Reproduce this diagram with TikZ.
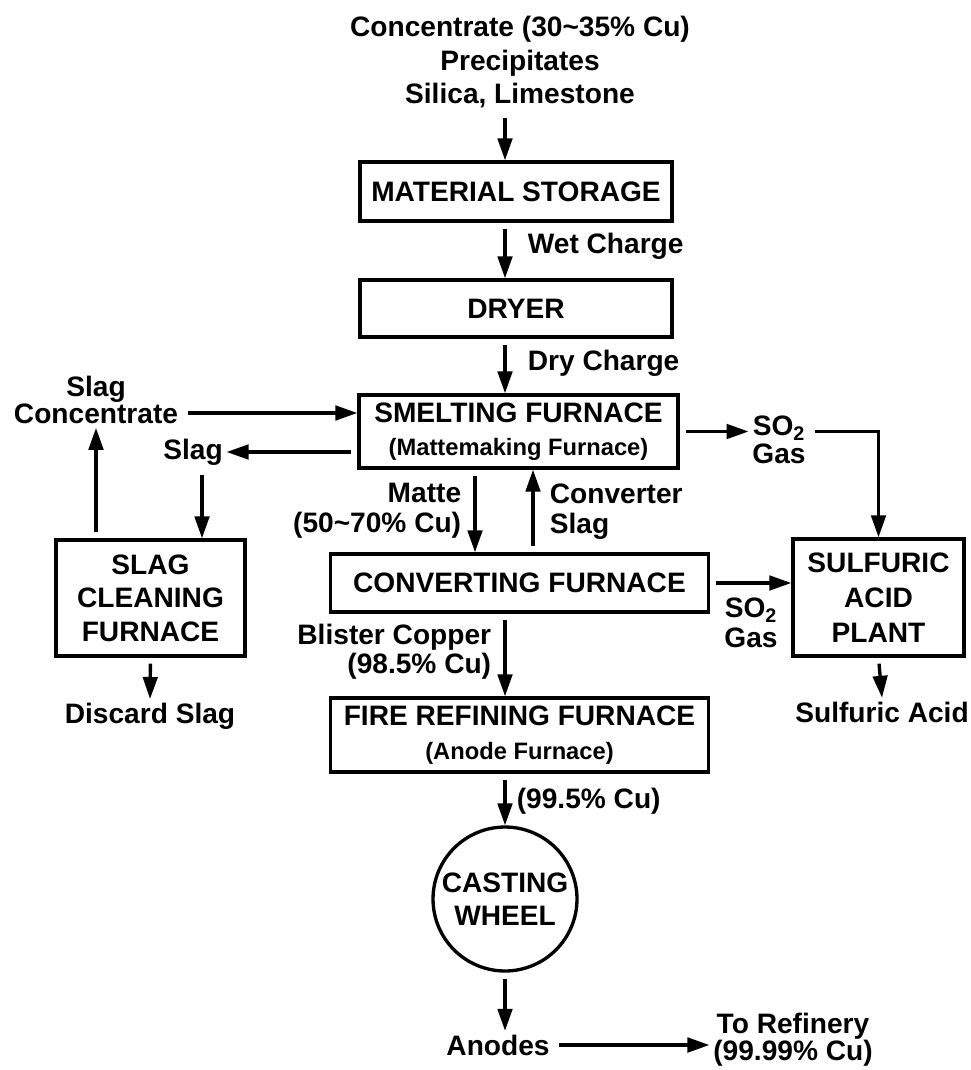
\documentclass[tikz,border=0pt]{standalone}
\usepackage{fontspec}
\setmainfont{Liberation Sans}
\usetikzlibrary{arrows.meta, positioning, shapes.geometric}
\tikzset{
  cublock/.style={rectangle, draw=black, line width=1.9pt, align=center,
                  inner sep=0pt, font=\bfseries\fontsize{16pt}{19pt}\selectfont},
  cuwheel/.style={cublock, circle, minimum size=2.88cm},
  culabel/.style={align=center, inner sep=2pt,
                  font=\bfseries\fontsize{16pt}{#1}\selectfont},
  culabel/.default=19pt,
  cuarrow/.style={-{Triangle[length=0.44cm, width=0.29cm]}, line width=1.9pt,
                  shorten <=0.12cm},
}
\newcommand{\subtxt}[1]{{\fontsize{13.5pt}{16pt}\selectfont #1}}

\begin{document}
\begin{tikzpicture}[x=0.02cm, y=-0.02cm]
  \useasboundingbox (0,0) rectangle (970,1070);
  \coordinate (trunk) at (505,0);
  \coordinate (mattex) at (475,0);
  \coordinate (slagx) at (533,0);

  % process units
  \node[cublock, minimum width=6.24cm, minimum height=1.18cm] (storage) at (516,191.5)
    {MATERIAL STORAGE};
  \node[cublock, minimum width=6.24cm, minimum height=1.14cm] (dryer) at (516,308.5)
    {DRYER};
  \node[cublock, minimum width=6.38cm, minimum height=1.46cm] (smelt) at (518.5,431.5)
    {SMELTING FURNACE\\\subtxt{(Mattemaking Furnace)}};
  \node[cublock, minimum width=7.56cm, minimum height=1.16cm] (convert) at (519.5,583)
    {CONVERTING FURNACE};
  \node[cublock, minimum width=7.56cm, minimum height=1.48cm] (refine) at (519.5,735)
    {FIRE REFINING FURNACE\\\subtxt{(Anode Furnace)}};
  \node[cublock, minimum width=3.78cm, minimum height=2.32cm] (cleaning) at (150.5,598)
    {SLAG\\CLEANING\\FURNACE};
  \node[cublock, minimum width=3.42cm, minimum height=2.34cm,
        font=\bfseries\fontsize{16pt}{19.8pt}\selectfont] (acid) at (878.5,597.5)
    {SULFURIC\\ACID\\PLANT};
  \node[cuwheel] (wheel) at (505,899) {CASTING\\WHEEL};

  % streams
  \node[culabel=19.3pt] (feed) at (520,62)
    {Concentrate (30\textasciitilde35\% Cu)\\Precipitates\\Silica, Limestone};
  \node[culabel, anchor=west] (wet) at (524,246) {Wet Charge};
  \node[culabel, anchor=west] (dry) at (524,363) {Dry Charge};
  \node[culabel=15.5pt] (slagconc) at (96,400) {Slag\\Concentrate};
  \node[culabel] (slag) at (193,452) {Slag};
  \node[culabel=17pt, anchor=east, align=right] (matte) at (465,511)
    {Matte\\(50\textasciitilde70\% Cu)};
  \node[culabel=17pt, anchor=west, align=left] (convslag) at (546,512)
    {Converter\\Slag};
  \node[culabel=16pt] (gasA) at (779,440) {SO\textsubscript{2}\\Gas};
  \node[culabel=17pt] (gasB) at (751,623) {SO\textsubscript{2}\\Gas};
  \node[culabel=16.5pt, anchor=east, align=right] (blister) at (495,652)
    {Blister Copper\\(98.5\% Cu)};
  \node[culabel, anchor=west] (pure) at (513,801) {(99.5\% Cu)};
  \node[culabel] (discard) at (150,716) {Discard Slag};
  \node[culabel] (sulacid) at (882,712) {Sulfuric Acid};
  \node[culabel] (anodes) at (498,1045) {Anodes};
  \node[culabel=15.5pt] (refinery) at (793,1040) {To Refinery\\(99.99\% Cu)};

  % main line
  \draw[cuarrow] (feed.south -| trunk) -- (storage.north -| trunk);
  \draw[cuarrow] (storage.south -| trunk) -- (dryer.north -| trunk);
  \draw[cuarrow] (dryer.south -| trunk) -- (smelt.north -| trunk);
  \draw[cuarrow] (smelt.south -| mattex) -- (convert.north -| mattex);
  \draw[cuarrow] (convert.north -| slagx) -- (smelt.south -| slagx);
  \draw[cuarrow] (convert.south -| trunk) -- (refine.north -| trunk);
  \draw[cuarrow] (refine.south -| trunk) -- (wheel.north);
  \draw[cuarrow] (wheel.south) -- (anodes.north -| wheel.south);
  \draw[cuarrow] (anodes.east) -- (refinery.west |- anodes.east);

  % slag loop
  \draw[cuarrow] ([yshift=-0.26cm]slagconc.east) -- ([yshift=-0.26cm]slagconc.east -| smelt.west);
  \draw[cuarrow] (smelt.west |- slag.east) -- (slag.east);
  \draw[cuarrow] ([xshift=0.18cm]slag.south) -- ([xshift=0.18cm]slag.south |- cleaning.north);
  \draw[cuarrow] (cleaning.north -| slagconc.south) -- (slagconc.south);
  \draw[cuarrow] (cleaning.south) -- (discard.north);

  % gas line
  \draw[cuarrow] (smelt.east) -- (gasA.west |- smelt.east);
  \draw[cuarrow] (gasA.east |- smelt.east) -| (acid.north);
  \draw[cuarrow] (convert.east) -- (acid.west |- convert.east);
  \draw[cuarrow] (acid.south) -- (sulacid.north);
\end{tikzpicture}
\end{document}
